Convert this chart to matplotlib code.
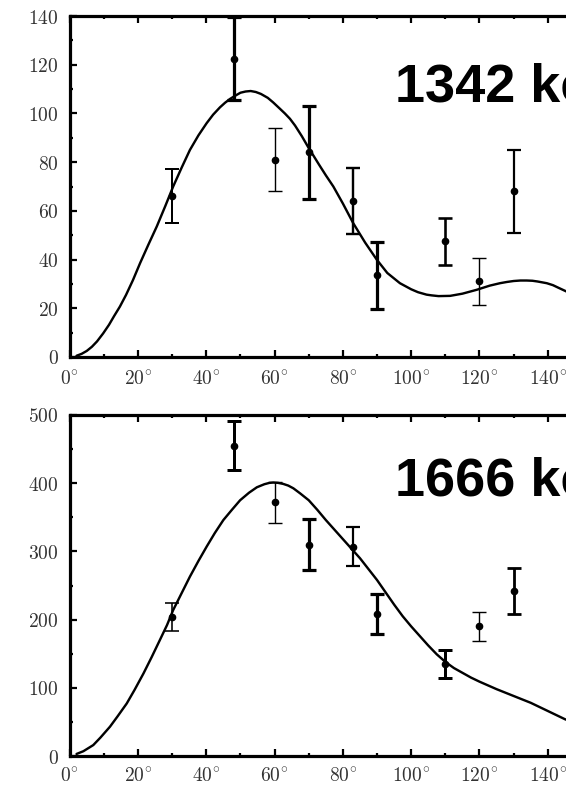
import matplotlib
matplotlib.use("Agg")
import matplotlib.pyplot as plt
from matplotlib.ticker import MultipleLocator, FuncFormatter

plt.rcParams['mathtext.fontset'] = 'cm'

# ---------------- data ----------------
angles = [30, 48, 60, 70, 83, 90, 110, 120, 130]

y1342 = [66, 122.5, 81, 84, 64, 33.5, 47.5, 31, 68]
err1342 = [11, 17, 13, 19, 13.7, 13.7, 9.7, 9.8, 17]

y1666 = [204, 455, 372, 310, 307, 208, 135, 190, 242]
err1666 = [20, 36, 30, 37, 29, 29, 21, 21, 34]

fit1342_theta = [2, 3.5, 5, 6.5, 8, 9.8, 11.5, 13, 14.7, 16.5, 18.5, 20.6, 23, 25.5,
                 28, 30.3, 32.8, 35.2, 37.7, 40.1, 42, 44, 45.5, 47, 48.5, 50, 51.5,
                 53, 54.5, 56, 58, 59.6, 61.5, 63, 64.5, 66, 68, 69.9, 71.5, 73, 75,
                 77.2, 80, 83, 86.5, 89.9, 93, 96.7, 100, 102, 104.5, 106, 108,
                 111.4, 115, 119.2, 123, 126, 128, 130, 132, 133.8, 135.5, 137,
                 139.7, 141.5, 143, 145.3, 148]
fit1342 = [0.5, 1.3, 2.5, 4.2, 6.4, 9.7, 13.2, 16.8, 20.7, 25.5, 31.5, 38.5, 46, 53.6,
           62, 70, 77.8, 85, 91, 96, 99.5, 102.5, 104.4, 106, 107.3, 108.5, 109,
           109.2, 108.8, 108, 106.4, 104.5, 102, 100, 97.8, 95, 90.6, 86, 82.4, 79, 74.6,
           70, 63, 55, 47, 40, 34.5, 30.3, 27.8, 26.6, 25.6, 25.3, 25,
           25.1, 26, 27.6, 29.3, 30.3, 30.8, 31.2, 31.4, 31.4, 31.3, 31,
           30.3, 29.5, 28.5, 27, 25]

fit1666_theta = [2, 4, 6.9, 9, 11.8, 14, 16.7, 19, 21.6, 24, 26.4, 28.5, 30.3, 32.8,
                 35.2, 37.7, 40.1, 42.5, 45, 47.5, 49.9, 52.5, 54.8, 57, 58.5, 59.6,
                 61, 62.5, 64, 65.5, 67.5, 70, 72.5, 75, 77.5, 80, 82.5, 85, 87.5, 90,
                 92.5, 95, 97.5, 100, 102.5, 105, 107.5, 110, 112.5, 115, 117.5, 120,
                 125, 130, 135, 140, 145, 148]
fit1666 = [3, 7, 16, 27, 43, 58, 77, 97, 121, 145, 170, 192, 214, 239,
           263, 286, 307, 327, 346, 361, 375, 386, 394, 398.5, 400.5, 401,
           400.5, 399, 396.5, 392.5, 385, 375, 361, 346, 332, 318, 304, 290, 274, 258,
           240, 222, 205, 190, 176, 162, 149, 138, 129, 122, 115, 109,
           98, 88, 78, 66, 54, 48]

panel_labels = ['1342 keV', '1666 keV']

# ---------------- styles ----------------
W, H = 566, 785
lw_top = [2.0, 3.2, 1.4, 3.2, 2.4, 3.2, 2.6, 1.4, 2.2]
lw_bot = [1.6, 3.0, 1.4, 3.2, 2.2, 3.2, 3.0, 1.4, 2.8]
px = 72 / 100.0

fig = plt.figure(figsize=(W / 100, H / 100), dpi=100)
fig.patch.set_facecolor('white')

x0 = 69.7
deg20 = 68.3
axw = 9 * deg20

panels = [
    dict(bottom=357, top=16, y=y1342, e=err1342, ft=fit1342_theta, f=fit1342,
         ymax=140, major=20, minor=10, lw=lw_top, label=panel_labels[0], lab_base=102,
         xpad=9),
    dict(bottom=756, top=415, y=y1666, e=err1666, ft=fit1666_theta, f=fit1666,
         ymax=500, major=100, minor=50, lw=lw_bot, label=panel_labels[1], lab_base=495,
         xpad=8),
]

for p in panels:
    ax = fig.add_axes([x0 / W, (H - p['bottom']) / H, axw / W, (p['bottom'] - p['top']) / H])
    ax.set_xlim(0, 180)
    ax.set_ylim(0, p['ymax'])
    ax.plot(p['ft'], p['f'], color='black', lw=2.4 * px, zorder=3,
            solid_joinstyle='round', solid_capstyle='round')
    for a, v, e, w in zip(angles, p['y'], p['e'], p['lw']):
        ax.errorbar([a], [v], yerr=[e], fmt='o', color='black', ms=4.5,
                    elinewidth=w * px, capthick=w * px, capsize=4.7, zorder=4)
    ax.xaxis.set_major_locator(MultipleLocator(20))
    ax.xaxis.set_minor_locator(MultipleLocator(10))
    ax.yaxis.set_major_locator(MultipleLocator(p['major']))
    ax.yaxis.set_minor_locator(MultipleLocator(p['minor']))
    ax.xaxis.set_major_formatter(FuncFormatter(lambda v, pos: r'$%d^{\circ}$' % round(v)))
    ax.yaxis.set_major_formatter(FuncFormatter(lambda v, pos: r'$%d$' % round(v)))
    ax.tick_params(which='both', direction='in', top=True, right=True,
                   width=1.6, colors='black', labelcolor='#333333', labelsize=14)
    ax.tick_params(which='major', length=5.0)
    ax.tick_params(which='minor', length=2.5)
    ax.tick_params(axis='x', pad=p['xpad'])
    ax.tick_params(axis='y', pad=8)
    for s in ax.spines.values():
        s.set_linewidth(2.3)
    fig.text(395 / W, (H - p['lab_base']) / H, p['label'], fontsize=39,
             fontweight='bold', family=['Liberation Sans', 'DejaVu Sans'],
             va='baseline', ha='left', color='black', zorder=10)

fig.savefig('out.png', dpi=100, facecolor='white')
